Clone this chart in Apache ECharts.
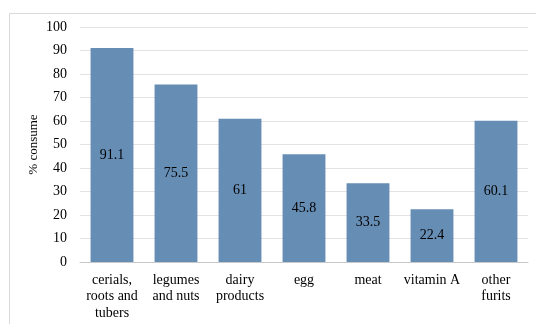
<!DOCTYPE html>
<html>
<head>
<meta charset="utf-8">
<script src="https://cdn.jsdelivr.net/npm/echarts@6/dist/echarts.min.js"></script>
<style>
  html, body { margin: 0; padding: 0; background: #fff; }
  #main { width: 536px; height: 324px; }
</style>
</head>
<body>
<div id="main"></div>
<script>
const categories = [
  'cerials,\nroots and\ntubers',
  'legumes\nand nuts',
  'dairy\nproducts',
  'egg',
  'meat',
  'vitamin A',
  'other\nfurits'
];
const consumeValues = [91.1, 75.5, 61, 45.8, 33.5, 22.4, 60.1];

const font = 'Liberation Serif';

const myChart = echarts.init(document.getElementById('main'));

const option = {
  animation: false,
  backgroundColor: '#fff',
  graphic: [
    {
      type: 'rect',
      shape: { x: 9.5, y: 13.5, width: 540, height: 330 },
      style: { fill: 'none', stroke: '#d9d9d9', lineWidth: 1 },
      silent: true
    }
  ],
  grid: {
    left: 80,
    right: 8,
    top: 27,
    bottom: 62
  },
  xAxis: {
    type: 'category',
    data: categories,
    axisLine: { show: true, lineStyle: { color: '#c8c8c8', width: 1 } },
    axisTick: { show: false },
    axisLabel: {
      interval: 0,
      color: '#000',
      fontFamily: font,
      fontSize: 14,
      lineHeight: 16.5,
      margin: 10
    }
  },
  yAxis: {
    type: 'value',
    min: 0,
    max: 100,
    interval: 10,
    name: '% consume',
    nameLocation: 'middle',
    nameGap: 40,
    nameMoveOverlap: false,
    nameTextStyle: { color: '#000', fontFamily: font, fontSize: 13 },
    axisLine: { show: false },
    axisTick: { show: false },
    axisLabel: {
      color: '#000',
      fontFamily: font,
      fontSize: 14,
      margin: 13
    },
    splitLine: { lineStyle: { color: '#e3e3e3', width: 1 } }
  },
  series: [
    {
      type: 'bar',
      data: consumeValues,
      barCategoryGap: '33%',
      itemStyle: { color: '#668db4' },
      label: {
        show: true,
        position: 'inside',
        color: '#000',
        fontFamily: font,
        fontSize: 14
      }
    }
  ]
};

myChart.setOption(option);
</script>
</body>
</html>
